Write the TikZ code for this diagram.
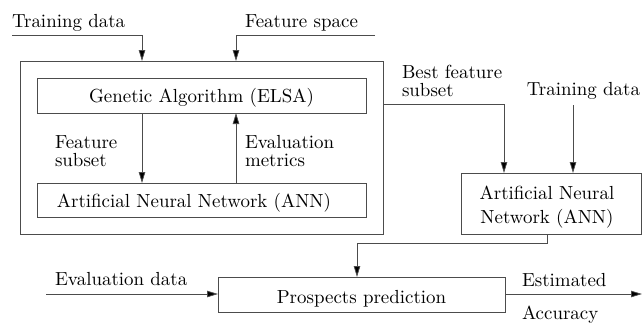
\documentclass[tikz,border=0pt]{standalone}
\usepackage{fontspec}
\IfFontExistsTF{lmroman10-regular.otf}{\setmainfont{lmroman10-regular.otf}}{}
\usetikzlibrary{arrows.meta}
\tikzset{
  ln/.style={draw=black!70, line width=0.8bp},
  arr/.style={ln, -{Triangle[length=11bp,width=6.5bp,fill=black]}},
  box/.style={ln, inner sep=0pt, outer sep=0pt},
  lbl/.style={inner sep=0pt, outer sep=0pt, anchor=base west, align=left, font=\fontsize{19}{18}\selectfont},
  ctext/.style={inner sep=0pt, outer sep=0pt, anchor=base, align=center, font=\fontsize{19}{23.1}\selectfont}
}
\begin{document}
\begin{tikzpicture}[x=1bp,y=-1bp]
\useasboundingbox (0,0) rectangle (642,324);
% boxes
\node[box, minimum width=363bp, minimum height=173bp] (outer) at (201.5,147.5) {};
\node[box, minimum width=329bp, minimum height=35bp] (ga) at (201.5,95.5) {};
\node[box, minimum width=329bp, minimum height=34bp] (anni) at (201.5,200) {};
\node[box, minimum width=180bp, minimum height=61bp] (ann2) at (551,203.5) {};
\node[box, minimum width=287bp, minimum height=35bp] (pp) at (361.5,294.5) {};
% box texts
\node[ctext] (gat) at (201.5,102) {Genetic Algorithm (ELSA)};
\node[ctext] (annit) at (194,207) {Artificial Neural Network (ANN)};
\node[ctext] (ann2t) at (547,223) {Artificial Neural\\Network (ANN)};
\node[ctext] (ppt) at (361.5,303) {Prospects prediction};
% labels
\node[lbl] (ltd) at (12,27) {Training data};
\node[lbl] (lfs) at (245,27) {Feature space};
\node[lbl] (lfsub) at (55,166) {Feature\\subset};
\node[lbl] (lem) at (245,166) {Evaluation\\metrics};
\node[lbl] (lbfs) at (402,96) {Best feature\\subset};
\node[lbl, anchor=base east] (ltd2) at (640,95) {Training data};
\node[lbl] (led) at (55,285) {Evaluation data};
\node[lbl] (lest) at (522,286) {Estimated};
\node[lbl] (lacc) at (522,319) {Accuracy};
% coordinates
\coordinate (td1) at (12,35);
\coordinate (c1) at (142,35);
\coordinate (fs1) at (375,35);
\coordinate (c2) at (236,35);
\coordinate (b1) at (383,104);
\coordinate (b2) at (504,104);
\coordinate (t2) at (573,105);
\coordinate (d1) at (547,243);
\coordinate (d2) at (357,243);
\coordinate (e1) at (46,294);
\coordinate (o1) at (642,294);
% connectors
\draw[arr] (td1) -- (c1) -- (c1 |- outer.north);
\draw[arr] (fs1) -- (c2) -- (c2 |- outer.north);
\draw[arr] (ga.south -| c1) -- (anni.north -| c1);
\draw[arr] (anni.north -| c2) -- (ga.south -| c2);
\draw[arr] (b1) -- (b2) -- (b2 |- ann2.north);
\draw[arr] (t2) -- (t2 |- ann2.north);
\draw[arr] (ann2.south -| d1) -- (d1) -- (d2) -- (d2 |- pp.north);
\draw[arr] (e1) -- (e1 -| pp.west);
\draw[arr] (pp.east |- o1) -- (o1);
\end{tikzpicture}
\end{document}
